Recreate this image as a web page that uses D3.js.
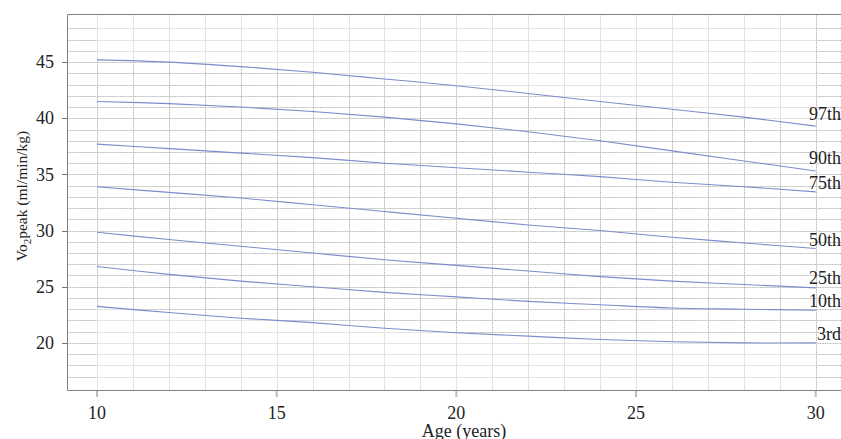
<!DOCTYPE html>
<html lang="en">
<head>
<meta charset="UTF-8">
<title>VO2peak centiles</title>
<script src="https://cdn.jsdelivr.net/npm/d3@7/dist/d3.min.js"></script>
<style>
    body { margin: 0; background: #fff; }
    text { font-family: "Liberation Serif", "Times New Roman", serif; fill: #222; }
</style>
</head>
<body>
<div id="chart"></div>
<script>
    // ages and centile values
    var ages = [10, 12, 14, 16, 18, 20, 22, 24, 26, 28, 30];
    var p97 = [45.2, 45.0, 44.6, 44.1, 43.5, 42.9, 42.2, 41.5, 40.8, 40.1, 39.3];
    var p90 = [41.5, 41.3, 41.0, 40.6, 40.1, 39.5, 38.8, 38.0, 37.1, 36.2, 35.3];
    var p75 = [37.7, 37.3, 36.9, 36.5, 36.0, 35.6, 35.2, 34.8, 34.3, 33.9, 33.45];
    var p50 = [33.9, 33.4, 32.9, 32.3, 31.7, 31.1, 30.5, 30.0, 29.4, 28.9, 28.4];
    var p25 = [29.85, 29.2, 28.6, 28.0, 27.4, 26.9, 26.4, 25.9, 25.5, 25.2, 24.9];
    var p10 = [26.8, 26.1, 25.5, 25.0, 24.5, 24.1, 23.7, 23.4, 23.1, 23.0, 22.9];
    var p3  = [23.25, 22.7, 22.2, 21.8, 21.3, 20.9, 20.6, 20.3, 20.1, 20.0, 20.0];

    var centileNames = ["97th", "90th", "75th", "50th", "25th", "10th", "3rd"];
    var labelAt = [39.84, 35.93, 33.7, 28.66, 25.25, 23.17, 20.27];

    var xTicks = [10, 15, 20, 25, 30];
    var yTicks = [20, 25, 30, 35, 40, 45];

    var series = [p97, p90, p75, p50, p25, p10, p3];

    var W = 841, H = 439;
    var pLeft = 67.5, pTop = 14.5, pBottom = 390.5, pRight = 861;

    var x = d3.scaleLinear().domain([9.18, 31.26]).range([pLeft, pRight]);
    var y = d3.scaleLinear().domain([15.76, 49.24]).range([pBottom, pTop]);

    var svg = d3.select("#chart").append("svg")
        .attr("width", W)
        .attr("height", H);

    var defs = svg.append("defs");
    defs.append("clipPath").attr("id", "panel")
        .append("rect")
        .attr("x", pLeft).attr("y", pTop)
        .attr("width", pRight - pLeft).attr("height", pBottom - pTop);

    // region where the dotted grid shows: between 97th and 3rd, plus outside the age range
    var band = ages.map(function (a, i) { return [x(a), y(p97[i])]; })
        .concat(ages.slice().reverse().map(function (a, i) { return [x(a), y(p3[ages.length - 1 - i])]; }));
    var bandPath = d3.line()(band) + "Z";
    var cp = defs.append("clipPath").attr("id", "band");
    cp.append("path").attr("d", bandPath);
    cp.append("rect").attr("x", pLeft).attr("y", pTop).attr("width", x(10) - pLeft).attr("height", pBottom - pTop);
    cp.append("rect").attr("x", x(30)).attr("y", pTop).attr("width", pRight - x(30)).attr("height", pBottom - pTop);

    var gx = d3.range(10, 31);
    var gy = d3.range(17, 49);

    var grid = svg.append("g").attr("clip-path", "url(#panel)");

    // light solid grid
    grid.selectAll("line.vs").data(gx).enter().append("line")
        .attr("x1", function (d) { return Math.round(x(d)) + 0.5; })
        .attr("x2", function (d) { return Math.round(x(d)) + 0.5; })
        .attr("y1", pTop).attr("y2", pBottom)
        .attr("stroke", "#e3e3e3").attr("stroke-width", 1);
    grid.selectAll("line.hs").data(gy).enter().append("line")
        .attr("y1", function (d) { return Math.round(y(d)) + 0.5; })
        .attr("y2", function (d) { return Math.round(y(d)) + 0.5; })
        .attr("x1", pLeft).attr("x2", pRight)
        .attr("stroke", "#e3e3e3").attr("stroke-width", 1);

    // dotted grid
    var dots = grid.append("g").attr("clip-path", "url(#band)");
    dots.selectAll("line.vd").data(gx).enter().append("line")
        .attr("x1", function (d) { return Math.round(x(d)) + 0.5; })
        .attr("x2", function (d) { return Math.round(x(d)) + 0.5; })
        .attr("y1", pTop).attr("y2", pBottom)
        .attr("stroke", "#b5b5b5").attr("stroke-width", 1)
        .attr("stroke-dasharray", "1,1.5");
    dots.selectAll("line.hd").data(gy).enter().append("line")
        .attr("y1", function (d) { return Math.round(y(d)) + 0.5; })
        .attr("y2", function (d) { return Math.round(y(d)) + 0.5; })
        .attr("x1", pLeft).attr("x2", pRight)
        .attr("stroke", "#b5b5b5").attr("stroke-width", 1)
        .attr("stroke-dasharray", "1,1.5");

    // centile curves
    var line = d3.line()
        .curve(d3.curveCatmullRom)
        .x(function (d, i) { return x(ages[i]); })
        .y(function (d) { return y(d); });

    svg.append("g").selectAll("path").data(series).enter().append("path")
        .attr("d", line)
        .attr("fill", "none")
        .attr("stroke", "#7d8dcc")
        .attr("stroke-width", 1.1);

    svg.append("g").selectAll("text").data(centileNames).enter().append("text")
        .attr("x", 841)
        .attr("y", function (d, i) { return y(labelAt[i]); })
        .attr("text-anchor", "end")
        .style("font-size", "18px")
        .text(function (d) { return d; });

    // panel border
    svg.append("path")
        .attr("d", "M" + W + "," + pTop + "H" + pLeft + "V" + pBottom + "H" + W)
        .attr("fill", "none")
        .attr("stroke", "#808080")
        .attr("stroke-width", 1);

    // x axis
    var xa = svg.append("g");
    xa.selectAll("line").data(xTicks).enter().append("line")
        .attr("x1", function (d) { return x(d); }).attr("x2", function (d) { return x(d); })
        .attr("y1", pBottom + 0.5).attr("y2", pBottom + 6.5)
        .attr("stroke", "#bdbdbd").attr("stroke-width", 2);
    xa.selectAll("text").data(xTicks).enter().append("text")
        .attr("x", function (d) { return x(d); })
        .attr("y", 418.5)
        .attr("text-anchor", "middle")
        .style("font-size", "18px")
        .text(function (d) { return d; });

    svg.append("text")
        .attr("x", 464).attr("y", 437)
        .attr("text-anchor", "middle")
        .style("font-size", "18px")
        .text("Age (years)");

    // y axis
    var ya = svg.append("g");
    ya.selectAll("line").data(yTicks).enter().append("line")
        .attr("x1", 62).attr("x2", pLeft)
        .attr("y1", function (d) { return Math.round(y(d)) + 0.5; })
        .attr("y2", function (d) { return Math.round(y(d)) + 0.5; })
        .attr("stroke", "#777").attr("stroke-width", 1);
    ya.selectAll("text").data(yTicks).enter().append("text")
        .attr("x", 54)
        .attr("y", function (d) { return y(d); })
        .attr("dy", "0.34em")
        .attr("text-anchor", "end")
        .style("font-size", "18px")
        .text(function (d) { return d; });

    var yt = svg.append("text")
        .attr("transform", "translate(27,196) rotate(-90)")
        .attr("text-anchor", "middle")
        .style("font-size", "15.5px");
    yt.append("tspan").text("Vo");
    yt.append("tspan").attr("dy", 4).style("font-size", "11px").text("2");
    yt.append("tspan").attr("dy", -4).text("peak (ml/min/kg)");
</script>
</body>
</html>
